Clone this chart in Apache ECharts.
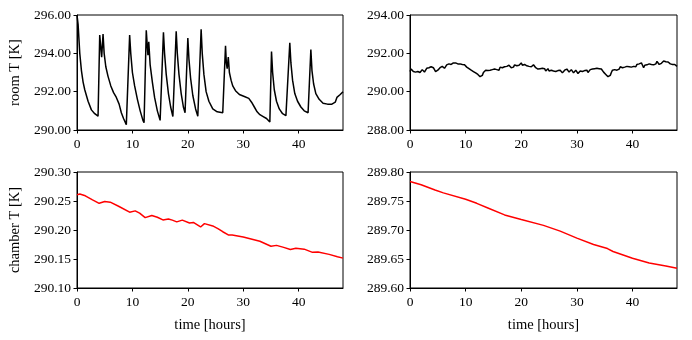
<!DOCTYPE html>
<html><head><meta charset="utf-8">
<script src="https://cdn.jsdelivr.net/npm/echarts@6/dist/echarts.min.js"></script>
<style>html,body{margin:0;padding:0;background:#fff}#c{width:692px;height:340px}</style>
</head><body><div id="c"></div>
<script>
// room temperature, left panel [hours, K]
const roomLeft = [
[0,296.0],[0.2,295.5],[0.5,294.0],[0.8,293.1],[1.1,292.5],[1.4,292.1],[2.0,291.5],[2.6,291.05],[3.2,290.85],[3.8,290.72],
[4.1,294.95],[4.3,294.9],[4.45,293.8],[4.7,295.0],[4.9,294.0],[5.2,293.3],[5.6,292.8],[6.1,292.3],[6.6,291.95],[7.1,291.7],[7.6,291.35],[8.0,290.9],[8.4,290.6],[8.9,290.28],
[9.5,294.95],[9.7,294.0],[10.0,293.0],[10.4,292.3],[10.9,291.6],[11.4,291.0],[11.9,290.5],[12.1,290.38],
[12.5,295.2],[12.7,294.3],[12.8,293.9],[12.95,294.6],[13.2,293.4],[13.6,292.5],[14.0,291.7],[14.5,291.0],[15.0,290.5],
[15.6,295.1],[15.8,294.0],[16.1,292.9],[16.5,291.9],[16.9,291.2],[17.3,290.7],
[17.9,295.15],[18.1,294.0],[18.4,292.9],[18.8,291.9],[19.2,291.2],[19.5,290.9],
[20.0,294.8],[20.2,293.7],[20.5,292.7],[20.9,291.8],[21.4,291.1],[21.8,290.72],
[22.4,295.25],[22.6,294.0],[22.9,292.9],[23.3,292.0],[23.8,291.5],[24.5,291.1],[25.3,290.95],[26.3,290.9],
[26.8,294.4],[26.95,293.5],[27.1,293.2],[27.3,293.8],[27.5,293.0],[27.8,292.6],[28.1,292.3],[28.6,292.05],[29.3,291.85],[30.2,291.75],[31.0,291.65],[31.5,291.45],[32.0,291.2],[32.5,290.95],[33.0,290.8],[33.6,290.7],[34.2,290.6],[34.8,290.42],
[35.1,294.1],[35.3,293.0],[35.6,292.1],[36.0,291.5],[36.5,291.1],[37.1,290.85],[37.7,290.75],
[38.4,294.55],[38.6,293.5],[38.9,292.6],[39.3,291.9],[39.8,291.5],[40.4,291.2],[41.0,291.0],[41.7,290.9],
[42.2,294.2],[42.4,293.1],[42.7,292.4],[43.1,291.9],[43.7,291.6],[44.4,291.4],[45.2,291.35],[46.0,291.35],[46.6,291.45],[46.9,291.7],[47.5,291.85],[48.0,292.0]
];
// room temperature, right panel
const roomRight = [
[0,291.05],[0.2,291.18],[0.4,291.15],[0.6,291.05],[0.8,291.1],[1.0,291.02],[1.2,290.95],[1.4,291.05],[1.6,291.08],[1.8,291.0],[2.0,291.08],[2.2,291.15],[2.4,291.1],[2.6,291.02],[2.8,291.08],[3.0,291.22],[3.2,291.15],[3.4,291.25],[3.6,291.15],[3.8,291.3],
[4.0,291.38],[4.2,291.25],[4.4,291.18],[4.6,291.05],[4.8,291.02],[5.0,291.12],[5.2,291.15],[5.4,291.25],[5.6,291.2],[5.8,291.32],[6.0,291.28],[6.2,291.22],[6.4,291.3],[6.6,291.4],[6.8,291.35],[7.0,291.45],[7.2,291.35],[7.4,291.42],[7.6,291.38],[7.8,291.5],
[8.0,291.42],[8.2,291.5],[8.4,291.58],[8.6,291.45],[8.8,291.38],[9.0,291.45],[9.2,291.52],[9.4,291.42],[9.6,291.48],[9.8,291.4],[10.0,291.35],[10.2,291.28],[10.4,291.32],[10.6,291.2],[10.8,291.25],[11.0,291.12],[11.2,291.15],[11.4,291.05],[11.6,291.08],[11.8,290.98],
[12.0,291.02],[12.2,290.9],[12.4,290.85],[12.6,290.78],[12.8,290.72],[13.0,290.85],[13.2,291.0],[13.4,290.95],[13.6,291.12],[13.8,291.18],[14.0,291.1],[14.2,291.05],[14.4,291.12],[14.6,291.2],[14.8,291.15],[15.0,291.08],[15.2,291.18],[15.4,291.25],[15.6,291.15],[15.8,291.22],
[16.0,291.12],[16.2,291.28],[16.4,291.2],[16.6,291.25],[16.8,291.18],[17.0,291.3],[17.2,291.25],[17.4,291.32],[17.6,291.22],[17.8,291.38],[18.0,291.3],[18.2,291.25],[18.4,291.35],[18.6,291.28],[18.8,291.4],[19.0,291.3],[19.2,291.35],[19.4,291.28],[19.6,291.38],[19.8,291.42],
[20.0,291.5],[20.2,291.38],[20.4,291.32],[20.6,291.42],[20.8,291.38],[21.0,291.35],[21.2,291.42],[21.4,291.32],[21.6,291.4],[21.8,291.3],[22.0,291.35],[22.2,291.4],[22.4,291.32],[22.6,291.25],[22.8,291.3],[23.0,291.18],[23.2,291.28],[23.4,291.2],[23.6,291.12],[23.8,291.22],
[24.0,291.15],[24.2,291.2],[24.4,291.08],[24.6,291.15],[24.8,291.2],[25.0,291.08],[25.2,291.02],[25.4,291.12],[25.6,291.18],[25.8,291.08],[26.0,291.12],[26.2,291.05],[26.4,291.15],[26.6,291.1],[26.8,291.02],[27.0,291.12],[27.2,291.08],[27.4,290.98],[27.6,291.05],[27.8,291.12],
[28.0,291.08],[28.2,291.18],[28.4,291.12],[28.6,291.02],[28.8,291.1],[29.0,291.15],[29.2,291.08],[29.4,290.98],[29.6,291.05],[29.8,291.12],[30.0,291.05],[30.2,290.95],[30.4,291.02],[30.6,291.08],[30.8,290.98],[31.0,291.05],[31.2,290.98],[31.4,291.1],[31.6,291.05],[31.8,291.12],
[32.0,291.0],[32.2,291.08],[32.4,291.15],[32.6,291.22],[32.8,291.18],[33.0,291.25],[33.2,291.2],[33.4,291.28],[33.6,291.22],[33.8,291.3],[34.0,291.2],[34.2,291.25],[34.4,291.18],[34.6,291.08],[34.8,291.02],[35.0,290.95],[35.2,290.9],[35.4,290.82],[35.6,290.78],[35.8,290.7],
[36.0,290.85],[36.2,291.0],[36.4,291.12],[36.6,291.2],[36.8,291.15],[37.0,291.2],[37.2,291.12],[37.4,291.22],[37.6,291.18],[37.8,291.3],[38.0,291.2],[38.2,291.25],[38.4,291.35],[38.6,291.28],[38.8,291.22],[39.0,291.32],[39.2,291.4],[39.4,291.3],[39.6,291.35],[39.8,291.28],
[40.0,291.38],[40.2,291.32],[40.4,291.38],[40.6,291.3],[40.8,291.42],[41.0,291.35],[41.2,291.45],[41.4,291.4],[41.6,291.5],[41.8,291.38],[42.0,291.25],[42.2,291.38],[42.4,291.45],[42.6,291.4],[42.8,291.35],[43.0,291.45],[43.2,291.52],[43.4,291.42],[43.6,291.48],[43.8,291.4],
[44.0,291.5],[44.2,291.45],[44.4,291.58],[44.6,291.48],[44.8,291.42],[45.0,291.52],[45.2,291.48],[45.4,291.56],[45.6,291.6],[45.8,291.52],[46.0,291.56],[46.2,291.5],[46.4,291.55],[46.6,291.48],[46.8,291.45],[47.0,291.5],[47.2,291.42],[47.4,291.38],[47.6,291.42],[47.8,291.35],[48.0,291.32]
];
// chamber temperature, left panel
const chamberLeft = [
[0,290.2607],[0.5,290.262],[1.5,290.259],[2.8,290.252],[4.0,290.246],[5.0,290.249],[6.0,290.248],[7.5,290.241],[9.5,290.2307],[10.5,290.233],
[11.3,290.229],[12.3,290.2213],[13.5,290.225],[14.5,290.222],[15.5,290.2174],[16.5,290.219],[17.2,290.217],[18.0,290.214],[19.0,290.217],[20.3,290.212],
[21.0,290.213],[22.3,290.2052],[23.0,290.211],[24.5,290.207],[25.5,290.202],[26.3,290.197],[27.3,290.1915],[28.0,290.1915],[30.0,290.188],[33.0,290.1805],
[35.0,290.172],[36.0,290.1735],[37.3,290.170],[38.5,290.1665],[39.5,290.1685],[41.0,290.167],[42.5,290.1615],[43.5,290.162],[45.5,290.158],[47.0,290.154],[48.0,290.1515]
];
// chamber temperature, right panel
const chamberRight = [
[0,289.7836],[2,289.778],[4.5,289.769],[6,289.764],[10,289.753],[12,289.746],[14,289.738],[17,289.726],[20,289.718],[24,289.708],
[27,289.698],[30,289.686],[33,289.675],[35.5,289.668],[36.5,289.663],[40,289.6514],[43,289.643],[46,289.638],[48,289.634]
];
const yTicksRoomLeft = [290, 296, 2];
const yTicksRoomRight = [288, 294, 2];
const yTicksChLeft = [290.10, 290.30, 0.05];
const yTicksChRight = [289.60, 289.80, 0.05];
const xTicks = [0, 48, 10];
const yNames = ['room T [K]', 'chamber T [K]'];
const xName = 'time [hours]';

const FONT = 'Liberation Serif';
const FS = 13.5;
const NFS = 14.5;
const chart = echarts.init(document.getElementById('c'), null, {renderer: 'canvas'});
const grids = [
  {left: 77, top: 15, width: 266, height: 115},
  {left: 410, top: 15, width: 267, height: 115},
  {left: 77, top: 172, width: 266, height: 116},
  {left: 410, top: 172, width: 267, height: 116}
].map(g => Object.assign({show: true, borderColor: '#000', borderWidth: 1, backgroundColor: '#fff'}, g));

function xAxis(i, withName) {
  return {
    type: 'value', gridIndex: i, min: xTicks[0], max: xTicks[1], interval: xTicks[2],
    name: withName ? xName : '', nameLocation: 'middle', nameGap: 30,
    nameTextStyle: {fontFamily: FONT, fontSize: NFS, color: '#000'},
    axisLine: {show: true, lineStyle: {color: '#000', width: 1}},
    axisTick: {show: true, length: 3.5, lineStyle: {color: '#000'}},
    axisLabel: {fontFamily: FONT, fontSize: FS, color: '#000', margin: 7, showMaxLabel: false},
    splitLine: {show: false}
  };
}
function yAxis(i, t, name) {
  return {
    type: 'value', gridIndex: i, min: t[0], max: t[1], interval: t[2],
    name: name || '', nameLocation: 'middle', nameGap: 54, nameRotate: 90,
    nameTextStyle: {fontFamily: FONT, fontSize: NFS, color: '#000'},
    axisLine: {show: true, lineStyle: {color: '#000', width: 1}},
    axisTick: {show: true, length: 3.5, lineStyle: {color: '#000'}},
    axisLabel: {fontFamily: FONT, fontSize: FS, color: '#000', margin: 6, formatter: v => v.toFixed(2)},
    splitLine: {show: false}
  };
}
function line(i, data, color) {
  return {type: 'line', xAxisIndex: i, yAxisIndex: i, data: data, showSymbol: false, symbol: 'none',
    lineStyle: {color: color, width: 1.5}, animation: false, z: 3};
}
chart.setOption({
  animation: false,
  grid: grids,
  xAxis: [xAxis(0, false), xAxis(1, false), xAxis(2, true), xAxis(3, true)],
  yAxis: [yAxis(0, yTicksRoomLeft, yNames[0]), yAxis(1, yTicksRoomRight), yAxis(2, yTicksChLeft, yNames[1]), yAxis(3, yTicksChRight)],
  series: [line(0, roomLeft, '#000'), line(1, roomRight, '#000'), line(2, chamberLeft, '#ff0000'), line(3, chamberRight, '#ff0000')]
});
</script></body></html>
